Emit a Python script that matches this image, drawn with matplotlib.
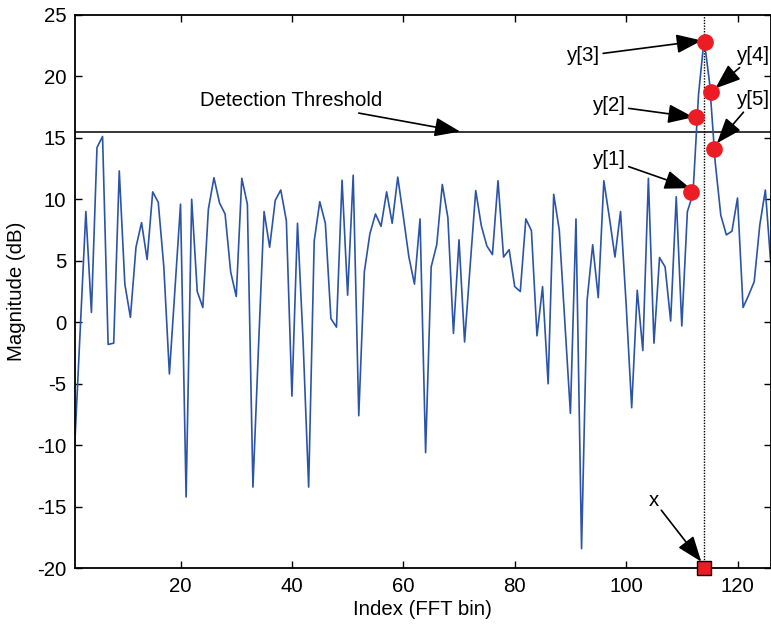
import matplotlib
matplotlib.use('Agg')
import matplotlib.pyplot as plt
import numpy as np

plt.rcParams['font.family'] = ['Liberation Sans', 'DejaVu Sans']
plt.rcParams['axes.unicode_minus'] = False

# FFT bin magnitudes (dB), bins 1..126
bins = np.arange(1, 127)
mag = [-10.0, -0.5, 9.0, 0.8, 14.2, 15.1, -1.8, -1.7, 12.3, 3.1,
       0.4, 6.1, 8.1, 5.1, 10.6, 9.75, 4.5, -4.2, 2.7, 9.6,
       -14.2, 10.0, 2.5, 1.2, 9.2, 11.75, 9.7, 8.8, 4.1, 2.1,
       11.7, 9.6, -13.4, -2.0, 9.0, 6.1, 9.9, 10.75, 8.25, -6.0,
       8.05, -1.5, -13.4, 6.6, 9.8, 8.05, 0.3, -0.4, 11.55, 2.2,
       11.95, -7.6, 4.1, 7.2, 8.8, 7.8, 10.6, 8.05, 11.8, 8.6,
       5.3, 3.1, 8.4, -10.6, 4.5, 6.3, 11.2, 8.5, -0.9, 6.7,
       -1.6, 4.6, 10.7, 7.85, 6.2, 5.5, 11.5, 5.3, 5.9, 2.9,
       2.5, 8.4, 7.45, -1.1, 2.9, -5.0, 10.4, 7.5, 0.0, -7.4,
       8.4, -18.4, 1.8, 6.3, 2.0, 11.5, 8.5, 5.3, 9.0, 1.5,
       -6.95, 2.6, -2.3, 11.7, -1.7, 5.26, 4.5, 0.1, 10.2, -0.3,
       9.0, 10.4, 18.5, 23.0, 19.4, 13.0, 8.7, 7.1, 7.4, 10.1,
       1.2, 2.2, 3.3, 7.9, 10.75, 4.6]

threshold = 15.5
peak_bin = 114

# interpolation samples around the peak
samp_x = [111.7, 112.6, 114.1, 115.2, 115.8]
samp_y = [10.6, 16.7, 22.8, 18.7, 14.1]
samp_labels = ['y[1]', 'y[2]', 'y[3]', 'y[4]', 'y[5]']

fig = plt.figure(figsize=(7.71, 6.25), dpi=100)
ax = fig.add_axes([0.0969, 0.0907, 0.903, 0.8858])

ax.plot(bins, mag, color='#2b54a8', lw=1.2, zorder=2)
ax.axhline(threshold, color='k', lw=1.1, zorder=1)
ax.axvline(peak_bin, color='k', lw=1.0, ls=(0, (1, 1)), zorder=1)
ax.plot(samp_x, samp_y, 'o', color='#ec1c24', ms=11, mec='#ec1c24', zorder=4)
ax.plot([peak_bin], [-20], 's', color='#ec1c24', mec='k', mew=1.0, ms=10,
        zorder=5, clip_on=False)

ax.set_xlim(1, 126)
ax.set_ylim(-20, 25)
ax.set_xticks([20, 40, 60, 80, 100, 120])
ax.set_yticks(np.arange(-20, 26, 5))
ax.tick_params(direction='in', length=5, width=1, labelsize=14.7,
               top=True, right=True, pad=6)
for s in ax.spines.values():
    s.set_linewidth(1.3)

ax.set_xlabel('Index (FFT bin)', fontsize=14.7, labelpad=3)
ax.set_ylabel('Magnitude (dB)', fontsize=14.7, labelpad=8)

arrow = dict(arrowstyle='-|>,head_length=0.75,head_width=0.28', color='k',
             lw=1.2, mutation_scale=21, shrinkA=0, shrinkB=0)
fs = 14.7

ax.annotate('Detection Threshold', xy=(70.2, threshold), xytext=(39.9, 18.0),
            ha='center', va='center', fontsize=fs, arrowprops=arrow)

txt_pos = [(97.0, 13.2), (97.0, 17.6), (92.4, 21.65), (122.95, 21.7), (122.95, 18.07)]
tips = [(111.5, 10.9), (112.1, 16.67), (113.6, 22.9), (116.0, 19.0), (116.3, 14.55)]
for lab, p, t in zip(samp_labels, txt_pos, tips):
    ax.annotate(lab, xy=t, xytext=p, ha='center', va='center', fontsize=fs,
                arrowprops=arrow, annotation_clip=False)

ax.annotate('x', xy=(113.5, -19.46), xytext=(104.9, -14.45), ha='center',
            va='center', fontsize=fs, arrowprops=arrow)

fig.savefig('out.png', dpi=100)
